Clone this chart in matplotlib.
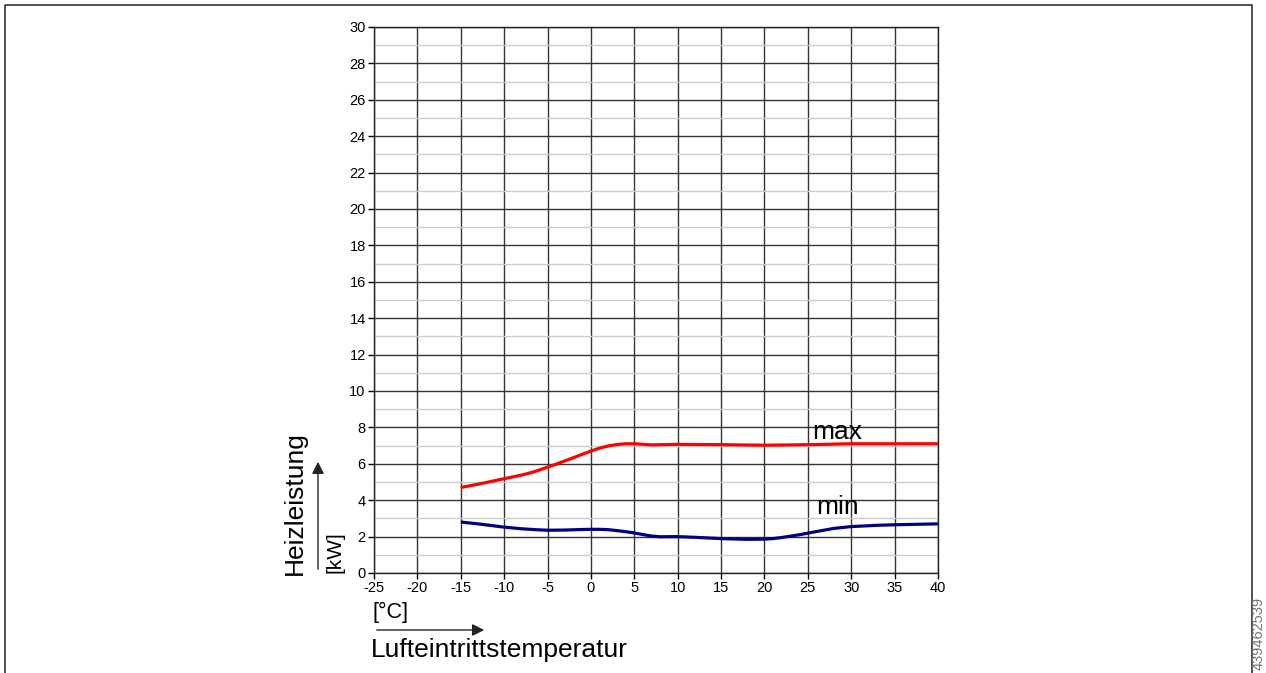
import matplotlib.pyplot as plt
from matplotlib.lines import Line2D

plt.rcParams['font.family'] = ['Liberation Sans', 'DejaVu Sans']
plt.rcParams['axes.unicode_minus'] = False

# Heizleistung max / min über Lufteintrittstemperatur
t_max = [-15, -13, -11, -10, -8, -7, -6, -5, -4, -3, -2, -1, 0, 1, 2, 3, 4, 5, 6, 7, 8, 10, 15, 20, 25, 30, 35, 40]
p_max = [4.7, 4.88, 5.08, 5.18, 5.38, 5.5, 5.65, 5.82, 5.98, 6.16, 6.34, 6.52, 6.7, 6.86, 6.98, 7.06, 7.1, 7.1, 7.07, 7.04, 7.05, 7.07, 7.05, 7.02, 7.05, 7.1, 7.1, 7.1]

t_min = [-15, -13, -11, -10, -8, -6, -5, -3, -1, 0, 1, 2, 3, 4, 5, 6, 7, 8, 10, 12, 15, 18, 20, 21, 22, 24, 26, 28, 30, 33, 35, 40]
p_min = [2.8, 2.7, 2.58, 2.52, 2.43, 2.37, 2.35, 2.36, 2.39, 2.4, 2.4, 2.38, 2.33, 2.27, 2.2, 2.11, 2.03, 1.99, 2.0, 1.96, 1.89, 1.85, 1.86, 1.89, 1.95, 2.1, 2.28, 2.45, 2.55, 2.62, 2.65, 2.7]

x_ticks = list(range(-25, 41, 5))
y_ticks = list(range(0, 31, 2))

fig = plt.figure(figsize=(12.66, 6.73), dpi=100)
ax = fig.add_axes([374 / 1266, 1 - 573 / 673, 564 / 1266, 546 / 673])

ax.set_xlim(-25, 40)
ax.set_ylim(0, 30)
ax.set_xticks(x_ticks)
ax.set_yticks(y_ticks)
ax.set_yticks(range(1, 30, 2), minor=True)
ax.tick_params(axis='both', which='major', labelsize=10.5, length=4, width=1, color='black', pad=2)
ax.tick_params(axis='y', which='minor', length=0)

ax.grid(which='minor', axis='y', color='#cccccc', linewidth=1)
ax.grid(which='major', color='#333333', linewidth=1)
ax.set_axisbelow(True)
for s in ax.spines.values():
    s.set_color('#222222')
    s.set_linewidth(1)

ax.plot(t_max, p_max, color='#ff0000', linewidth=2.3, solid_capstyle='butt')
ax.plot(t_min, p_min, color='#000080', linewidth=2.3, solid_capstyle='butt')

ax.text(28.4, 7.75, 'max', fontsize=19, ha='center', va='center')
ax.text(28.4, 3.6, 'min', fontsize=19, ha='center', va='center')

# axis titles with arrows
fig.text(295 / 1266, 1 - 503 / 673, 'Heizleistung', rotation=90, fontsize=19, ha='center', va='center')
fig.text(335 / 1266, 1 - 552 / 673, '[kW]', rotation=90, fontsize=15, ha='center', va='center')
ax.annotate('', xy=(318 / 1266, 1 - 459 / 673), xytext=(318 / 1266, 1 - 572 / 673),
            xycoords='figure fraction', textcoords='figure fraction',
            arrowprops=dict(arrowstyle='-|>', color='#222222', lw=1, mutation_scale=18))

fig.text(373 / 1266, 1 - 612 / 673, '[°C]', fontsize=15.5, ha='left', va='center')
ax.annotate('', xy=(487 / 1266, 1 - 630 / 673), xytext=(374 / 1266, 1 - 630 / 673),
            xycoords='figure fraction', textcoords='figure fraction',
            arrowprops=dict(arrowstyle='-|>', color='#222222', lw=1, mutation_scale=18))
fig.text(371 / 1266, 1 - 650 / 673, 'Lufteintrittstemperatur', fontsize=19, ha='left', va='center')

fig.text(1259 / 1266, 1 - 633 / 673, '439462539', rotation=90, fontsize=10.5, color='#777777',
         ha='center', va='center')

# frame around the picture
fig.add_artist(Line2D([5 / 1266, 5 / 1266, 1252 / 1266, 1252 / 1266],
                      [0, 1 - 5 / 673, 1 - 5 / 673, 0],
                      transform=fig.transFigure, color='#333333', linewidth=1.2))

fig.savefig('out.png', dpi=100)
